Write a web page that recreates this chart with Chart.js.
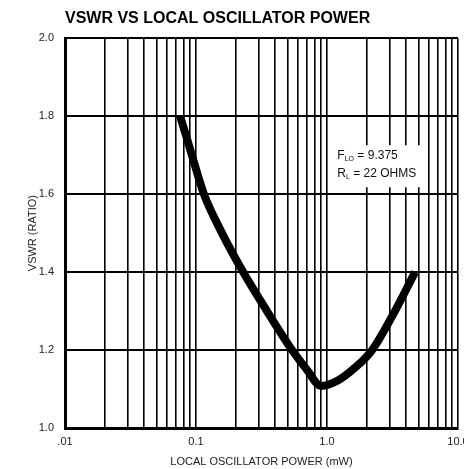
<!DOCTYPE html>
<html>
<head>
<meta charset="utf-8">
<script src="https://cdn.jsdelivr.net/npm/chart.js@4.4.1/dist/chart.umd.min.js"></script>
<style>
    html, body { margin: 0; padding: 0; background: #fff; overflow: hidden; }
    .chart-box { width: 480px; height: 469px; }
</style>
</head>
<body>
<div class="chart-box">
    <canvas id="myChart"></canvas>
</div>
<script>
// data
const power = [0.0755, 0.084, 0.093, 0.115, 0.158, 0.229, 0.348, 0.541, 0.70, 0.9, 1.21, 1.64, 2.21, 3.3, 4.7];
const vswr = [1.80, 1.75, 1.70, 1.60, 1.50, 1.40, 1.30, 1.20, 1.15, 1.108, 1.122, 1.155, 1.20, 1.30, 1.40];

// log grid: 1..9 in every decade
const xGridValues = [
    0.01, 0.02, 0.03, 0.04, 0.05, 0.06, 0.07, 0.08, 0.09,
    0.1, 0.2, 0.3, 0.4, 0.5, 0.6, 0.7, 0.8, 0.9,
    1, 2, 3, 4, 5, 6, 7, 8, 9,
    10
];
const xTickValues = [0.01, 0.1, 1, 10];
const xTickLabels = [".01", "0.1", "1.0", "10.0"];
const yTickLabels = ["1.0", "1.2", "1.4", "1.6", "1.8", "2.0"];

const noteLines = [
    { main: "F", sub: "LO", rest: " = 9.375" },
    { main: "R", sub: "L", rest: " = 22 OHMS" }
];

const FONT = "'Liberation Sans', Arial, Helvetica, sans-serif";

// white box with the test conditions
const notePlugin = {
    id: "note",
    afterDatasetsDraw(chart) {
        const { ctx, scales: { x, y } } = chart;
        const left = x.getPixelForValue(1.2);
        const top = y.getPixelForValue(1.715);

        ctx.save();
        ctx.fillStyle = "#fff";
        ctx.fillRect(left - 7, top - 4, 95, 42);

        ctx.fillStyle = "#111";
        ctx.textBaseline = "alphabetic";
        noteLines.forEach((line, i) => {
            let px = left;
            const py = top + 10 + i * 18;
            ctx.font = "12px " + FONT;
            ctx.fillText(line.main, px, py);
            px += ctx.measureText(line.main).width;
            ctx.font = "7px " + FONT;
            ctx.fillText(line.sub, px, py + 2);
            px += ctx.measureText(line.sub).width;
            ctx.font = "12px " + FONT;
            ctx.fillText(line.rest, px, py);
        });
        ctx.restore();
    }
};

const data = {
    datasets: [
        {
            label: "VSWR",
            data: power.map((p, i) => ({ x: p, y: vswr[i] })),
            borderColor: "#000",
            backgroundColor: "#000",
            borderWidth: 8,
            borderCapStyle: "butt",
            cubicInterpolationMode: "monotone",
            pointRadius: 0,
            fill: false
        }
    ]
};

const config = {
    type: "line",
    data,
    options: {
        responsive: true,
        maintainAspectRatio: false,
        animation: false,
        layout: {
            padding: { top: 0, right: 22, bottom: 0, left: 0 }
        },
        plugins: {
            legend: { display: false },
            tooltip: { enabled: false },
            title: {
                display: true,
                text: "VSWR VS LOCAL OSCILLATOR POWER",
                align: "start",
                fullSize: false,
                color: "#000",
                font: { family: FONT, size: 16, weight: "bold" },
                padding: { top: 9, bottom: 10 }
            }
        },
        scales: {
            x: {
                type: "logarithmic",
                min: 0.01,
                max: 10,
                afterBuildTicks: scale => {
                    scale.ticks = xGridValues.map(v => ({ value: v }));
                },
                afterFit: scale => {
                    scale.height = 41;
                },
                ticks: {
                    autoSkip: false,
                    maxRotation: 0,
                    padding: 7,
                    color: "#222",
                    font: { family: FONT, size: 11 },
                    callback: value => {
                        const i = xTickValues.findIndex(v => Math.abs(v - value) < 1e-9);
                        return i >= 0 ? xTickLabels[i] : "";
                    }
                },
                grid: { color: "#000", lineWidth: 1.6, drawTicks: false },
                border: { display: true, color: "#000", width: 3 },
                title: {
                    display: true,
                    text: "LOCAL OSCILLATOR POWER (mW)",
                    color: "#222",
                    font: { family: FONT, size: 11 },
                    padding: { top: 0, bottom: 0 }
                }
            },
            y: {
                min: 1,
                max: 2,
                afterFit: scale => {
                    scale.width = 65;
                },
                ticks: {
                    stepSize: 0.2,
                    padding: 11,
                    color: "#222",
                    font: { family: FONT, size: 11 },
                    callback: (value, index) => yTickLabels[index]
                },
                grid: { color: "#000", lineWidth: 2, drawTicks: false },
                border: { display: true, color: "#000", width: 3 },
                title: {
                    display: true,
                    text: "VSWR (RATIO)",
                    color: "#222",
                    font: { family: FONT, size: 11 },
                    padding: { top: 26, bottom: 0 }
                }
            }
        }
    },
    plugins: [notePlugin]
};

window.myChart = new Chart(document.getElementById("myChart"), config);
</script>
</body>
</html>
